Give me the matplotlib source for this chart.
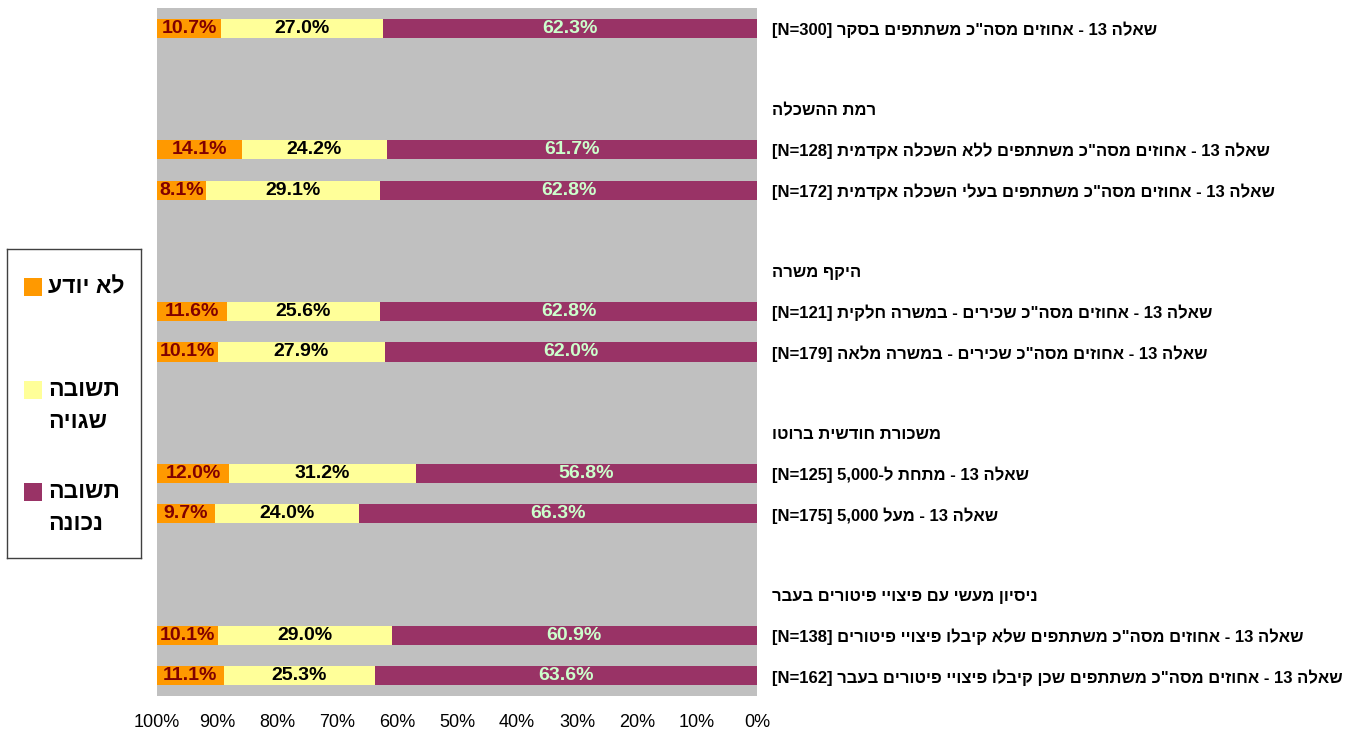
import re
import numpy as np
from matplotlib import pyplot as plt
from matplotlib.patches import Rectangle

plt.rcParams['font.family'] = ['Liberation Sans', 'DejaVu Sans']

# row labels, top to bottom (logical order)
labels = [
    'שאלה 13 - אחוזים מסה"כ משתתפים בסקר [N=300]',
    '',
    'רמת ההשכלה',
    'שאלה 13 - אחוזים מסה"כ משתתפים ללא השכלה אקדמית [N=128]',
    'שאלה 13 - אחוזים מסה"כ משתתפים בעלי השכלה אקדמית [N=172]',
    '',
    'היקף משרה',
    'שאלה 13 - אחוזים מסה"כ שכירים - במשרה חלקית [N=121]',
    'שאלה 13 - אחוזים מסה"כ שכירים - במשרה מלאה [N=179]',
    '',
    'משכורת חודשית ברוטו',
    'שאלה 13 - מתחת ל-5,000 [N=125]',
    'שאלה 13 - מעל 5,000 [N=175]',
    '',
    'ניסיון מעשי עם פיצויי פיטורים בעבר',
    'שאלה 13 - אחוזים מסה"כ משתתפים שלא קיבלו פיצויי פיטורים [N=138]',
    'שאלה 13 - אחוזים מסה"כ משתתפים שכן קיבלו פיצויי פיטורים בעבר [N=162]',
]

nan = np.nan
correct = [62.3, nan, nan, 61.7, 62.8, nan, nan, 62.8, 62.0, nan, nan, 56.8, 66.3, nan, nan, 60.9, 63.6]
wrong = [27.0, nan, nan, 24.2, 29.1, nan, nan, 25.6, 27.9, nan, nan, 31.2, 24.0, nan, nan, 29.0, 25.3]
dont_know = [10.7, nan, nan, 14.1, 8.1, nan, nan, 11.6, 10.1, nan, nan, 12.0, 9.7, nan, nan, 10.1, 11.1]

series_names = ['לא יודע', 'תשובה\nשגויה', 'תשובה\nנכונה']


def visual(s):
    # crude bidi: flip the string, keep latin/number runs readable
    r = s[::-1]
    return re.sub(r'[A-Za-z0-9=,.\[\]]+', lambda m: m.group(0)[::-1], r)


c_correct = '#993366'
c_wrong = '#FFFF99'
c_dk = '#FF9900'

fig = plt.figure(figsize=(13.52, 7.35), dpi=100)
ax = fig.add_axes([157 / 1352, 39 / 735, 600 / 1352, 688 / 735])
ax.set_facecolor('#C0C0C0')

y = np.arange(len(labels))
correct = np.array(correct)
wrong = np.array(wrong)
dont_know = np.array(dont_know)

h = 0.47
b1 = ax.barh(y, correct, height=h, color=c_correct)
b2 = ax.barh(y, wrong, left=correct, height=h, color=c_wrong)
b3 = ax.barh(y, dont_know, left=correct + wrong, height=h, color=c_dk)


def fmt(vals):
    return ['' if np.isnan(v) else '%.1f%%' % v for v in vals]


ax.bar_label(b1, labels=fmt(correct), label_type='center', color='#CCFFCC',
             fontsize=14, fontweight='bold')
ax.bar_label(b2, labels=fmt(wrong), label_type='center', color='black',
             fontsize=14, fontweight='bold')
ax.bar_label(b3, labels=fmt(dont_know), label_type='center', color='#800000',
             fontsize=14, fontweight='bold')

ax.set_xlim(100, 0)
ax.set_ylim(len(labels) - 0.5, -0.5)
ax.set_xticks(np.arange(0, 101, 10))
ax.set_xticklabels(['%d%%' % v for v in np.arange(0, 101, 10)], fontsize=13)
ax.tick_params(axis='x', length=0, pad=13)

ax.yaxis.tick_right()
ax.set_yticks(y)
ax.set_yticklabels([visual(s) for s in labels], fontsize=12, fontweight='bold')
ax.tick_params(axis='y', length=0, pad=11)

for sp in ax.spines.values():
    sp.set_visible(False)

# legend box drawn by hand (squares sit next to the first text line)
leg = fig.add_axes([7 / 1352, (735 - 558) / 735, 134 / 1352, 309 / 735])
leg.set_xlim(0, 134)
leg.set_ylim(309, 0)
leg.set_xticks([])
leg.set_yticks([])
for sp in leg.spines.values():
    sp.set_color('#404040')
    sp.set_linewidth(1)

entries = [(c_dk, series_names[0], 38), (c_wrong, series_names[1], 141), (c_correct, series_names[2], 243)]
for col, name, ytop in entries:
    leg.add_patch(Rectangle((17, ytop - 9), 18, 18, facecolor=col, edgecolor='none'))
    for i, line in enumerate(name.split('\n')):
        leg.text(41, ytop + i * 31, visual(line), fontsize=16.5, fontweight='bold',
                 ha='left', va='center')

plt.savefig('out.png', dpi=100)
